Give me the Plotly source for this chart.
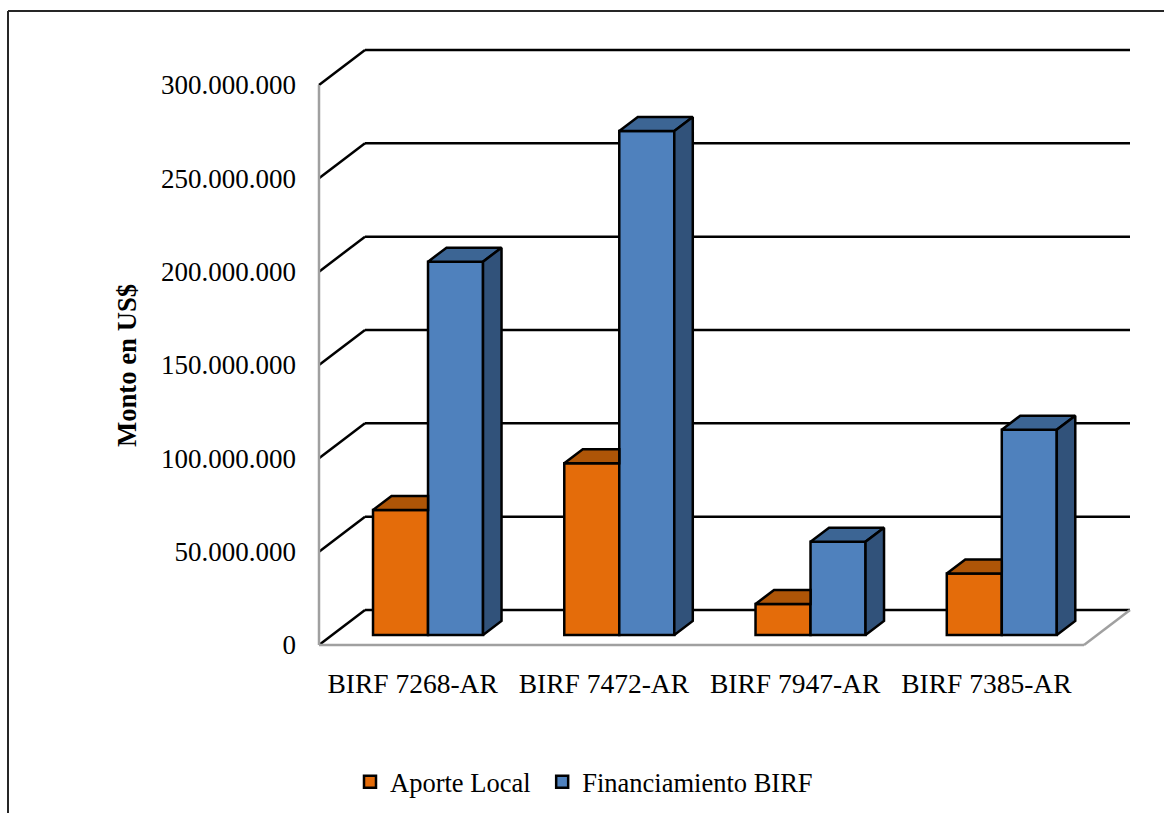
import plotly.graph_objects as go

categories = ["BIRF 7268-AR", "BIRF 7472-AR", "BIRF 7947-AR", "BIRF 7385-AR"]
aporte_local = [67000000, 92000000, 16600000, 33000000]
financiamiento = [200000000, 270000000, 50000000, 110000000]
tick_values = [0, 50000000, 100000000, 150000000, 200000000, 250000000, 300000000]
tick_labels = ["0", "50.000.000", "100.000.000", "150.000.000", "200.000.000", "250.000.000", "300.000.000"]

W, H = 1164, 813
L, R, T, B = 316, 1133, 47, 648          # plot area in page pixels
X_FRONT0 = 319                            # pixel of the front-left floor corner
Y_FRONT0 = 645                            # pixel of value 0 on the front edge
PX_PER_CAT = 191.25
PX_PER_VAL = 560 / 300000000
WALL_DX = 46 / PX_PER_CAT                 # depth of the floor
WALL_DY = 35 / PX_PER_VAL
BAR_W = 55 / PX_PER_CAT
BAR_SHIFT = 13.4 / PX_PER_CAT
BAR_BASE = 10 / PX_PER_VAL
DEPTH_X = 18.5 / PX_PER_CAT
DEPTH_Y = 14 / PX_PER_VAL
LABEL_SHIFT = -2 / PX_PER_CAT
FRONT_L = -0.5
FRONT_R = FRONT_L + len(categories)

SERIF = "Liberation Serif"
ORANGE, ORANGE_TOP = "#E46C0A", "#AE5507"
BLUE, BLUE_TOP, BLUE_SIDE = "#4F81BD", "#3C6594", "#31527A"
LINE = dict(color="#000000", width=2.5)


def paper_x(px):
    return (px - L) / (R - L)


def paper_y(px):
    return (B - px) / (B - T)


fig = go.Figure()
idx = list(range(len(categories)))

fig.add_trace(go.Bar(
    name="Aporte Local\u00a0", x=[i + BAR_SHIFT - BAR_W / 2 for i in idx], y=aporte_local,
    base=[BAR_BASE] * len(idx), width=BAR_W,
    marker=dict(color=ORANGE, line=LINE),
))
fig.add_trace(go.Bar(
    name="Financiamiento BIRF", x=[i + BAR_SHIFT + BAR_W / 2 for i in idx], y=financiamiento,
    base=[BAR_BASE] * len(idx), width=BAR_W,
    marker=dict(color=BLUE, line=LINE),
))


def face(xs, ys, color):
    fig.add_trace(go.Scatter(
        x=xs, y=ys, mode="lines", fill="toself", fillcolor=color,
        line=LINE, showlegend=False, hoverinfo="skip",
    ))


for i, v in zip(idx, aporte_local):
    x0 = i + BAR_SHIFT - BAR_W
    x1 = i + BAR_SHIFT
    top = BAR_BASE + v
    # top face is hidden behind the neighbouring blue bar past x1
    face([x0, x0 + DEPTH_X, x1, x1, x0], [top, top + DEPTH_Y, top + DEPTH_Y, top, top], ORANGE_TOP)

for i, v in zip(idx, financiamiento):
    x0 = i + BAR_SHIFT
    x1 = i + BAR_SHIFT + BAR_W
    top = BAR_BASE + v
    face([x0, x0 + DEPTH_X, x1 + DEPTH_X, x1, x0],
         [top, top + DEPTH_Y, top + DEPTH_Y, top, top], BLUE_TOP)
    face([x1, x1 + DEPTH_X, x1 + DEPTH_X, x1, x1],
         [BAR_BASE, BAR_BASE + DEPTH_Y, top + DEPTH_Y, top, BAR_BASE], BLUE_SIDE)

shapes = []


def seg(x0, y0, x1, y1, color="#000000", width=2.5):
    shapes.append(dict(type="line", xref="x", yref="y", x0=x0, y0=y0, x1=x1, y1=y1,
                       layer="below", line=dict(color=color, width=width)))


for t in tick_values:
    seg(FRONT_L, t, FRONT_L + WALL_DX, t + WALL_DY)
    seg(FRONT_L + WALL_DX, t + WALL_DY, FRONT_R + WALL_DX, t + WALL_DY)

GREY = "#A0A0A0"
seg(FRONT_L, tick_values[0], FRONT_L, tick_values[-1], GREY, 2.5)
seg(FRONT_L, 0, FRONT_R, 0, GREY, 2.5)
seg(FRONT_R, 0, FRONT_R + WALL_DX, WALL_DY, GREY, 2.5)

# page frame, open on the right and at the bottom
for x0, y0, x1, y1 in [(8, 11, 1164, 11), (8, 11, 8, 813)]:
    shapes.append(dict(type="line", xref="paper", yref="paper",
                       x0=paper_x(x0), y0=paper_y(y0), x1=paper_x(x1), y1=paper_y(y1),
                       line=dict(color="#262626", width=2)))

fig.update_layout(
    width=W, height=H,
    margin=dict(l=L, r=W - R, t=T, b=H - B, pad=0, autoexpand=False),
    paper_bgcolor="#FFFFFF", plot_bgcolor="rgba(0,0,0,0)",
    barmode="overlay", shapes=shapes, hovermode=False,
    font=dict(family=SERIF, size=27, color="#000000"),
    legend=dict(orientation="h", x=paper_x(350), xanchor="left", y=paper_y(782), yanchor="middle",
                font=dict(family=SERIF, size=26.5, color="#000000"),
                bgcolor="rgba(0,0,0,0)", itemwidth=30),
    xaxis=dict(
        range=[FRONT_L - (X_FRONT0 - L) / PX_PER_CAT, FRONT_L + (R - X_FRONT0) / PX_PER_CAT],
        tickmode="array", tickvals=[i + LABEL_SHIFT for i in idx], ticktext=categories,
        showgrid=False, zeroline=False, showline=False, ticks="", ticklabelstandoff=16,
        tickfont=dict(family=SERIF, size=27.5),
    ),
    yaxis=dict(
        range=[-(B - Y_FRONT0) / PX_PER_VAL, (Y_FRONT0 - T) / PX_PER_VAL],
        tickmode="array", tickvals=tick_values, ticktext=tick_labels,
        showgrid=False, zeroline=False, showline=False, ticks="", ticklabelstandoff=19,
        tickfont=dict(family=SERIF, size=27),
    ),
    annotations=[dict(
        text="<b>Monto en US$</b>", textangle=-90, showarrow=False,
        xref="paper", yref="paper", x=paper_x(127), y=paper_y(366),
        xanchor="center", yanchor="middle",
        font=dict(family=SERIF, size=26.7, color="#000000"),
    )],
)

fig.write_html("out.html", config=dict(displayModeBar=False),
               post_script="document.body.style.margin='0';document.body.style.overflow='hidden';")
